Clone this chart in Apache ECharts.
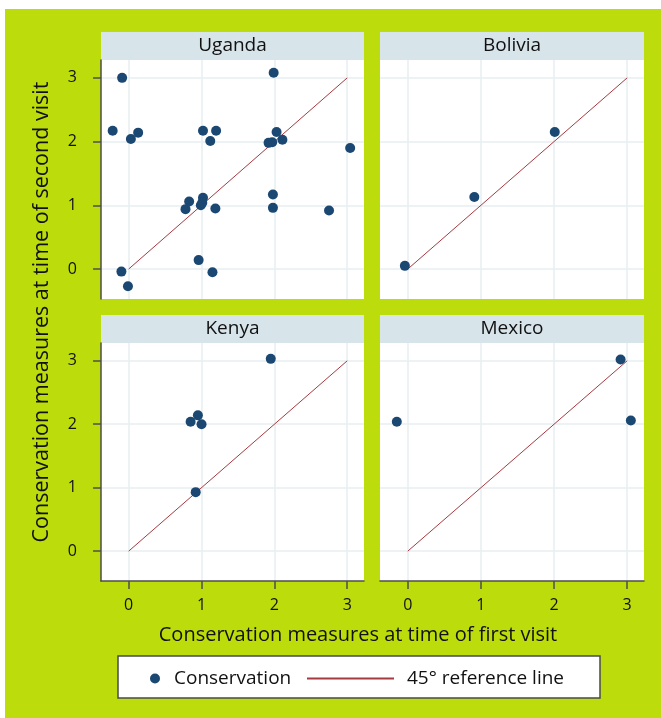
<!DOCTYPE html>
<html>
<head>
<meta charset="utf-8">
<script src="https://cdn.jsdelivr.net/npm/echarts@6/dist/echarts.min.js"></script>
<style>
  html, body { margin: 0; padding: 0; background: #fff; }
  #app { width: 661px; height: 718px; }
</style>
</head>
<body>
<div id="app"></div>
<script>
// panels, in reading order
const countries = ["Uganda", "Bolivia", "Kenya", "Mexico"];
const tickValues = [0, 1, 2, 3];
const refLine = [[0, 0], [3, 3]];

// [first visit, second visit]
const uganda = [
  [-0.09, 3.0], [1.99, 3.08], [-0.22, 2.17], [0.03, 2.04], [0.13, 2.14],
  [1.02, 2.17], [1.2, 2.17], [1.12, 2.01], [1.92, 1.98], [1.97, 1.99],
  [2.03, 2.15], [2.11, 2.03], [3.04, 1.9], [0.83, 1.06], [0.78, 0.94],
  [1.02, 1.12], [0.99, 1.0], [1.01, 1.04], [1.19, 0.95], [1.98, 1.17],
  [1.98, 0.96], [2.75, 0.92], [0.96, 0.14], [1.15, -0.05], [-0.1, -0.04],
  [-0.01, -0.27]
];
const bolivia = [[-0.04, 0.05], [0.91, 1.13], [2.01, 2.15]];
const kenya = [[1.95, 3.03], [0.95, 2.14], [0.85, 2.04], [1.0, 2.0], [0.92, 0.93]];
const mexico = [[-0.15, 2.04], [2.91, 3.02], [3.05, 2.06]];
const panelData = [uganda, bolivia, kenya, mexico];

const GREEN = "#bddc0b";
const HEAD = "#d7e4ea";
const DOT = "#1b4872";
const REF = "#a53a40";
const AXIS = "#4d4d4d";
const FONT = "Open Sans";

// pixel layout of the four panels
const panels = [
  { left: 101, top: 60, width: 263, height: 239, showY: true, showX: false },
  { left: 380, top: 60, width: 264, height: 239, showY: false, showX: false },
  { left: 101, top: 343, width: 263, height: 238, showY: true, showX: true },
  { left: 380, top: 343, width: 264, height: 238, showY: false, showX: true }
];

function axis(show, min, max, margin) {
  return {
    type: "value",
    min: min,
    max: max,
    axisLine: { show: show, onZero: false, lineStyle: { color: AXIS, width: 1.5 } },
    axisTick: { show: show, length: 8, customValues: tickValues, lineStyle: { color: AXIS, width: 1.5 } },
    axisLabel: {
      show: show,
      customValues: tickValues,
      margin: margin,
      color: "#111",
      fontFamily: FONT,
      fontSize: 16
    },
    splitLine: { show: true, lineStyle: { color: "#e7eff2", width: 1.5 } }
  };
}

const grid = panels.map(p => ({
  left: p.left, top: p.top, width: p.width, height: p.height,
  show: true, backgroundColor: "#fff", borderWidth: 0
}));
const xAxis = panels.map((p, i) => Object.assign(axis(p.showX, -0.38, 3.23, 16), { gridIndex: i }));
const yAxis = panels.map((p, i) => Object.assign(axis(p.showY, -0.47, 3.28, 24), { gridIndex: i }));

const series = [];
panelData.forEach((d, i) => {
  series.push({
    name: "45° reference line",
    type: "line",
    xAxisIndex: i, yAxisIndex: i,
    data: refLine,
    symbol: "none",
    silent: true,
    itemStyle: { color: REF },
    lineStyle: { color: REF, width: 1 },
    z: 2
  });
  series.push({
    name: "Conservation",
    type: "scatter",
    xAxisIndex: i, yAxisIndex: i,
    data: d,
    symbolSize: 10,
    itemStyle: { color: DOT, opacity: 1 },
    z: 3
  });
});

const graphic = [
  { type: "rect", shape: { x: 5, y: 9, width: 656, height: 709 }, style: { fill: GREEN }, z: -10 },
  { type: "rect", shape: { x: 118, y: 656, width: 482, height: 42 },
    style: { fill: "#fff", stroke: "#4a4a4a", lineWidth: 1.5 }, z: -5 },
  {
    type: "text", x: 42, y: 312, rotation: Math.PI / 2,
    style: { text: "Conservation measures at time of second visit", fontFamily: FONT,
      fontSize: 21.5, fill: "#111", textAlign: "center", textVerticalAlign: "middle" }
  },
  {
    type: "text", x: 358, y: 635,
    style: { text: "Conservation measures at time of first visit", fontFamily: FONT,
      fontSize: 20, fill: "#111", textAlign: "center", textVerticalAlign: "middle" }
  }
];
panels.forEach((p, i) => {
  graphic.push({ type: "rect", shape: { x: p.left, y: p.top - 28, width: p.width, height: 28 },
    style: { fill: HEAD }, z: -5 });
  graphic.push({ type: "text", x: p.left + p.width / 2, y: p.top - 14,
    style: { text: countries[i], fontFamily: FONT, fontSize: 19, fill: "#111",
      textAlign: "center", textVerticalAlign: "middle" } });
});

const chart = echarts.init(document.getElementById("app"));
chart.setOption({
  backgroundColor: "#fff",
  animation: false,
  grid: grid,
  xAxis: xAxis,
  yAxis: yAxis,
  legend: [
    {
      data: [{ name: "Conservation", icon: "circle" }],
      left: 150, top: 669, padding: 0,
      itemWidth: 28, itemHeight: 10,
      textStyle: { fontFamily: FONT, fontSize: 19, color: "#111" }
    },
    {
      data: [{ name: "45° reference line", itemStyle: { color: "rgba(0,0,0,0)", borderWidth: 0 } }],
      left: 306, top: 669, padding: 0,
      itemWidth: 87, itemHeight: 10,
      textStyle: { fontFamily: FONT, fontSize: 19, color: "#111", padding: [0, 0, 0, 8] }
    }
  ],
  graphic: graphic,
  series: series
});
</script>
</body>
</html>
